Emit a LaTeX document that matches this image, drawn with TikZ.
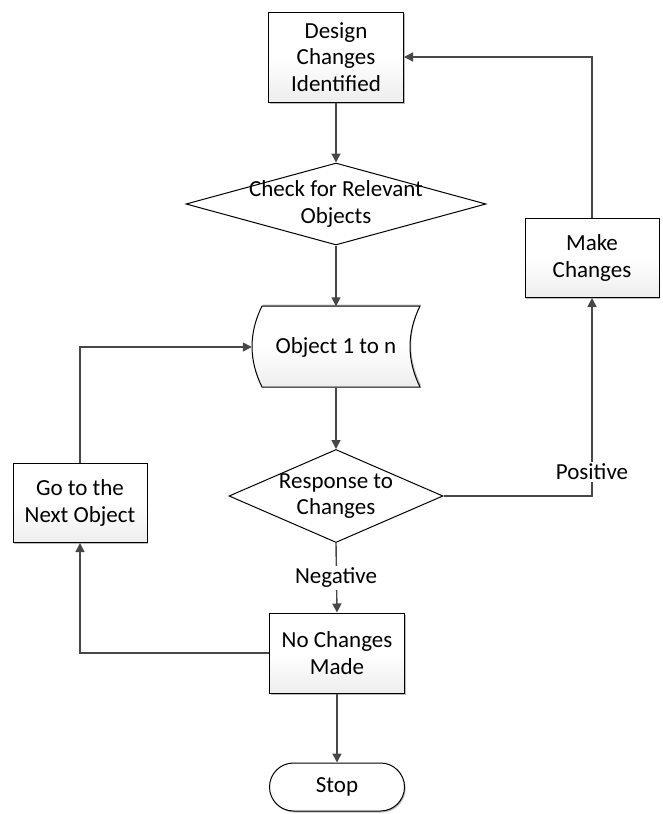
\documentclass[tikz,border=0pt]{standalone}
\usepackage{fontspec}
\setmainfont{Carlito}
\usetikzlibrary{shapes.geometric,arrows.meta,shadows,calc}
\begin{document}
\begin{tikzpicture}[x=1pt,y=-1pt,
  every node/.style={font=\fontsize{23}{26.5}\selectfont, align=center},
  procbox/.style={rectangle, draw=black, line width=1pt, top color=white, bottom color=black!7, middle color=white,
    drop shadow={shadow xshift=1.2pt, shadow yshift=-1.5pt, opacity=0.45, fill=black!60},
    minimum width=135pt, minimum height=80pt, inner sep=2pt},
  decide/.style={diamond, draw=black, line width=1pt, fill=white, inner sep=0pt},
  term/.style={rectangle, rounded corners=24pt, draw=black, line width=1pt, fill=white,
    drop shadow={shadow xshift=1.2pt, shadow yshift=-1.5pt, opacity=0.45, fill=black!60},
    minimum width=135pt, minimum height=48pt},
  conn/.style={draw=black!72, line width=1.4pt},
  arr/.style={conn, -{Triangle[width=9pt,length=9pt]}},
  lbl/.style={fill=white, inner sep=2pt}
]
\useasboundingbox (0,0) rectangle (662,814);

% nodes
\node[procbox, minimum height=90pt] (design) at (336,57) {Design\\Changes\\Identified};
\node[decide, minimum width=300pt, minimum height=82pt] (check) at (336,204) {};
\node at (check) {Check for Relevant\\Objects};

% stored data shape
\node[minimum width=168pt, minimum height=81pt, inner sep=0pt] (obj) at (336,347) {};
\fill[black!60, opacity=0.45, xshift=1.2pt, yshift=1.5pt]
  (262,306) -- (420,306) .. controls (406.7,333) and (406.7,360) .. (420,387)
  -- (262,387) .. controls (248.7,360) and (248.7,333) .. (262,306) -- cycle;
\draw[line width=1pt, top color=white, bottom color=black!7, middle color=white]
  (262,306) -- (420,306) .. controls (406.7,333) and (406.7,360) .. (420,387)
  -- (262,387) .. controls (248.7,360) and (248.7,333) .. (262,306) -- cycle;
\node at (obj) {Object 1 to n};

\node[decide, minimum width=214pt, minimum height=93pt] (resp) at (336,496) {};
\node at (resp) {Response to\\Changes};

\node[procbox] (noch) at (337,653) {No Changes\\Made};
\node[term] (stop) at (337,787) {Stop};
\node[procbox, minimum width=134pt, minimum height=79pt] (go) at (80,503) {Go to the\\Next Object};
\node[procbox, minimum width=134pt, minimum height=79pt] (make) at (592,258) {Make\\Changes};

% connectors
\draw[arr] (design.south) -- (check.north);
\draw[arr] (check.south) -- (obj.north);
\draw[arr] (obj.south) -- (resp.north);
\draw[arr] (resp.south) -- (noch.north);
\node[lbl] (neg) at (336,578) {Negative};
\draw[arr] (noch.south) -- (stop.north);
\draw[arr] (noch.west) -| (go.south);
\draw[arr] (go.north) |- (obj.west);
\draw[arr] (resp.east) -| (make.south);
\node[lbl] (pos) at (592,472) {Positive};
\draw[arr] (make.north) |- (design.east);
\end{tikzpicture}
\end{document}
